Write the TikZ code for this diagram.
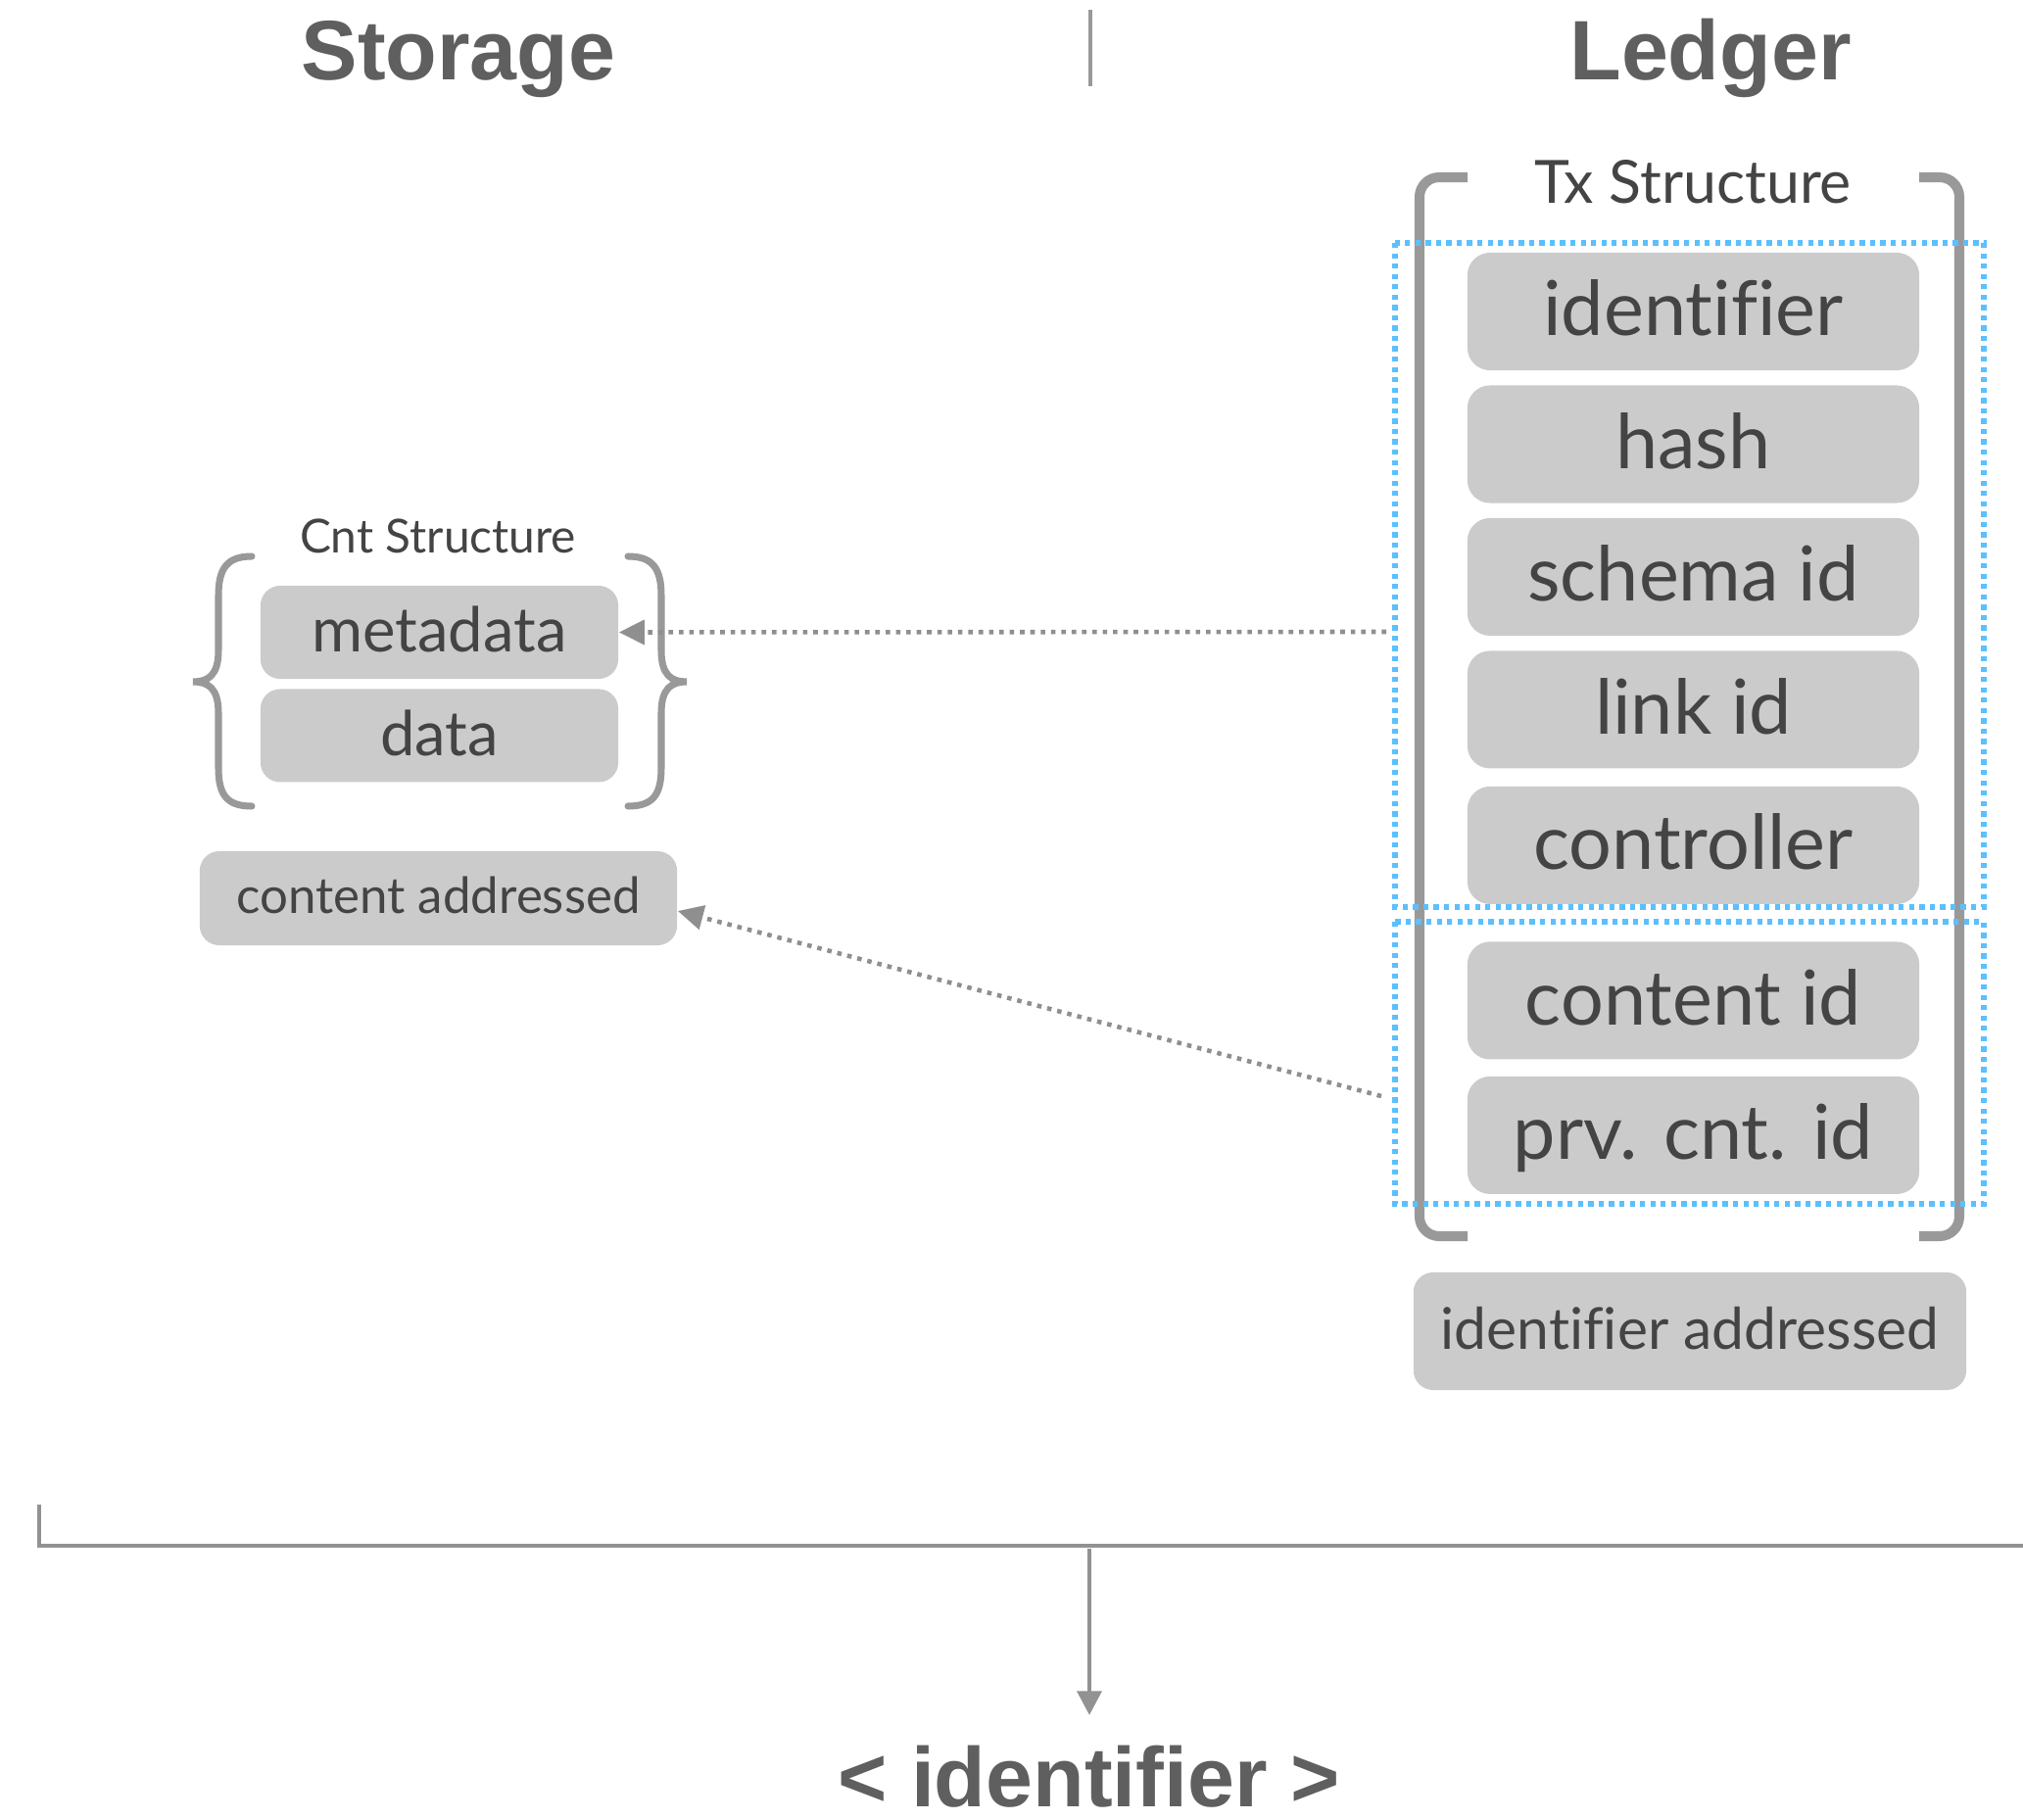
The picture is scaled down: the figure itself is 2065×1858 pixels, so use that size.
\documentclass[tikz,border=0pt]{standalone}
\usepackage{fontspec}
\setmainfont{Lato}[Ligatures=NoCommon]
\newfontfamily\headfont{Liberation Sans}[Ligatures=NoCommon]
\usepackage{xcolor}
\usepackage{tikz}
\usetikzlibrary{positioning,arrows.meta}

\definecolor{boxgray}{HTML}{CBCBCB}
\definecolor{boxtext}{HTML}{444444}
\definecolor{headgray}{HTML}{5F5F5F}
\definecolor{bracketgray}{HTML}{999999}
\definecolor{linkgray}{HTML}{8F8F8F}
\definecolor{linegray}{HTML}{929292}
\definecolor{dotblue}{HTML}{5BC0FF}

\begin{document}
\begin{tikzpicture}[x=0.01cm,y=-0.01cm,
   heading/.style={font=\headfont\bfseries\fontsize{24.5}{28}\selectfont,text=headgray,inner sep=0pt},
   caption/.style={text=boxtext,inner sep=0pt},
   tx field/.style={rectangle,rounded corners=0.23cm,fill=boxgray,text=boxtext,
      minimum width=4.61cm,minimum height=1.2cm,text height=16pt,text depth=1.8pt,
      font=\fontsize{22}{26}\selectfont},
   cnt field/.style={rectangle,rounded corners=0.2cm,fill=boxgray,text=boxtext,
      minimum width=3.65cm,minimum height=0.95cm,text height=13pt,text depth=1.4pt,
      font=\fontsize{18}{22}\selectfont},
   address/.style={rectangle,rounded corners=0.2cm,fill=boxgray,text=boxtext},
   bracket/.style={draw=bracketgray,line width=2.85pt,rounded corners=0.2cm},
   brace/.style={draw=bracketgray,line width=2pt,line cap=round},
   group/.style={draw=dotblue,line width=1.6pt,dash pattern=on 1.5pt off 1.5pt},
   link/.style={draw=linkgray,line width=1.3pt,dash pattern=on 1.3pt off 1.7pt,
      -{Triangle[length=7.4pt,width=7pt]}},
   result/.style={draw=linegray,line width=1.4pt,-{Triangle[length=7pt,width=7pt]}}]

  \useasboundingbox (0,0) rectangle (2065,1858);

  % headings
  \node[heading,anchor=base] (storage) at (468,82) {Storage};
  \node[heading,anchor=base] (ledger) at (1746,82) {Ledger};
  \draw[draw=bracketgray,line width=1pt] (1113,10) -- (1113,88);

  % ledger side
  \node[caption,anchor=base,font=\fontsize{17.3}{20}\selectfont] (txtitle) at (1728,208) {Tx Structure};
  \node[tx field] (idf) at (1728.5,318) {identifier};
  \node[tx field,below=0.14cm of idf] (hash) {hash};
  \node[tx field,below=0.14cm of hash] (schema) {schema id};
  \node[tx field,below=0.14cm of schema] (link) {link id};
  \node[tx field,below=0.17cm of link] (ctrl) {controller};
  \node[tx field,below=0.37cm of ctrl] (cid) {content id};
  \node[tx field,below=0.16cm of cid] (pcid) {prv. cnt. id};
  \draw[bracket] (1498,181) -- (1449,181) -- (1449,1262) -- (1498,1262);
  \draw[bracket] (1959,181) -- (2000,181) -- (2000,1262) -- (1959,1262);
  \draw[group] (1424,248) rectangle (2025,926);
  \draw[group] (1424,941) rectangle (2025,1229);
  \node[address,minimum width=5.64cm,minimum height=1.2cm,text height=12pt,text depth=1.2pt,
        font=\fontsize{16.7}{19}\selectfont] (iadr) at (1725,1359) {identifier addressed};

  % storage side
  \node[caption,anchor=base,font=\fontsize{13.6}{16}\selectfont] (cnttitle) at (447,565) {Cnt Structure};
  \node[cnt field] (meta) at (448.5,645.5) {metadata};
  \node[cnt field,below=0.09cm of meta] (data) {data};
  \draw[brace] (257,568) .. controls (232,568) and (223,580) .. (223,608) -- (223,664)
     .. controls (223,690) and (212,696) .. (197,696) .. controls (212,696) and (223,702) .. (223,728)
     -- (223,784) .. controls (223,812) and (232,823) .. (257,823);
  \draw[brace] (641,568) .. controls (666,568) and (675,580) .. (675,608) -- (675,664)
     .. controls (675,690) and (686,696) .. (701,696) .. controls (686,696) and (675,702) .. (675,728)
     -- (675,784) .. controls (675,812) and (666,823) .. (641,823);
  \node[address,minimum width=4.87cm,minimum height=0.96cm,text height=10pt,text depth=1.4pt,
        font=\fontsize{14.5}{17}\selectfont] (cadr) at (447.5,917) {content addressed};

  % references between the two sides
  \coordinate (meta src) at (1415,645);
  \coordinate (cnt src) at (1410,1119);
  \draw[link] (meta src) -- (meta.east);
  \draw[link] (cnt src) -- ([yshift=-3.7pt]cadr.east);

  % result
  \draw[draw=linegray,line width=1.4pt] (40,1536) -- (40,1578) -- (2065,1578);
  \coordinate (join) at (1112,1581);
  \node[heading,anchor=base,inner sep=8.5pt] (ident) at (1112,1844) {< identifier >};
  \draw[result] (join) -- (ident.north);
\end{tikzpicture}
\end{document}
